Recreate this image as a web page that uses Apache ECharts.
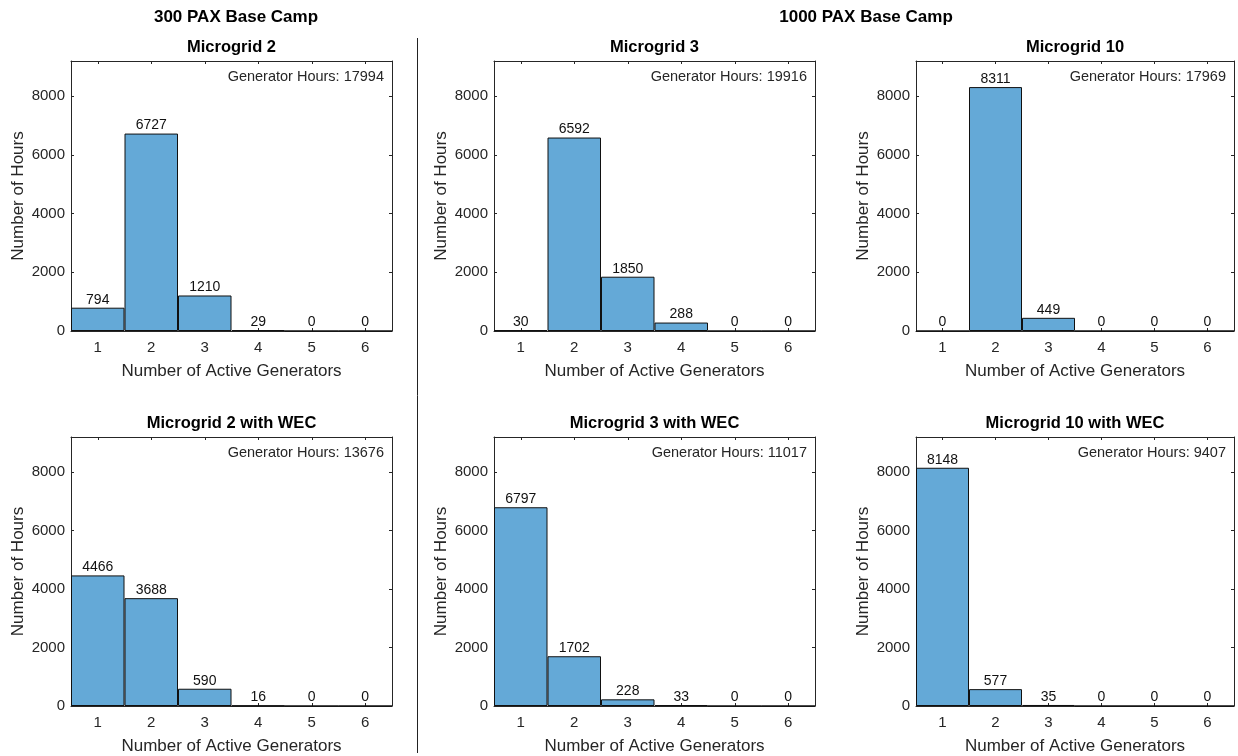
<!DOCTYPE html>
<html><head><meta charset="utf-8">
<script src="https://cdn.jsdelivr.net/npm/echarts@6/dist/echarts.min.js"></script>
<style>html,body{margin:0;padding:0;background:#fff}#c{width:1238px;height:756px}</style>
</head><body><div id="c"></div>
<script>
const categories = ['1','2','3','4','5','6'];
const mg2   = [794, 6727, 1210, 29, 0, 0];
const mg3   = [30, 6592, 1850, 288, 0, 0];
const mg10  = [0, 8311, 449, 0, 0, 0];
const mg2w  = [4466, 3688, 590, 16, 0, 0];
const mg3w  = [6797, 1702, 228, 33, 0, 0];
const mg10w = [8148, 577, 35, 0, 0, 0];
const panelSeries = [mg2, mg3, mg10, mg2w, mg3w, mg10w];
const panelTitles = ['Microgrid 2','Microgrid 3','Microgrid 10','Microgrid 2 with WEC','Microgrid 3 with WEC','Microgrid 10 with WEC'];
const genHours = [17994, 19916, 17969, 13676, 11017, 9407];
const groupTitles = ['300 PAX Base Camp','1000 PAX Base Camp'];
const yTicks = [0, 2000, 4000, 6000, 8000];
const yMax = 9200;

const FONT = 'Liberation Sans, Arial, Helvetica, sans-serif';
const TXT = '#262626';
const colLeft = [71, 494, 916];
const colWidth = [321, 321, 318];
const rowTop = [61, 437];
const rowHeight = [270, 269];

const grids = [], xAxes = [], yAxes = [], series = [], graphics = [];
for (let i = 0; i < 6; i++) {
  const r = Math.floor(i / 3), c = i % 3;
  grids.push({left: colLeft[c], top: rowTop[r], width: colWidth[c], height: rowHeight[r], containLabel: false, show: false});
  const axLine = {show: true, onZero: false, lineStyle: {color: TXT, width: 1}};
  const tick = {show: true, inside: true, length: 3, lineStyle: {color: TXT}};
  xAxes.push({
    type: 'category', gridIndex: i, data: categories, position: 'bottom',
    boundaryGap: true, axisLine: axLine,
    axisTick: Object.assign({alignWithLabel: true}, tick),
    axisLabel: {color: TXT, fontFamily: FONT, fontSize: 15, margin: 9},
    name: 'Number of Active Generators', nameLocation: 'middle', nameGap: 32,
    nameTextStyle: {color: TXT, fontFamily: FONT, fontSize: 17}
  });
  xAxes.push({
    type: 'category', gridIndex: i, data: categories, position: 'top',
    boundaryGap: true, axisLine: axLine,
    axisTick: Object.assign({alignWithLabel: true}, tick),
    axisLabel: {show: false}
  });
  const fmt = v => (yTicks.indexOf(v) >= 0 ? String(v) : '');
  yAxes.push({
    type: 'value', gridIndex: i, min: 0, max: yMax, interval: 2000, position: 'left',
    axisLine: axLine, axisTick: tick, splitLine: {show: false},
    axisLabel: {color: TXT, fontFamily: FONT, fontSize: 15, margin: 6, formatter: fmt, showMaxLabel: false},
    name: 'Number of Hours', nameLocation: 'middle', nameGap: 44, nameRotate: 90,
    nameTextStyle: {color: TXT, fontFamily: FONT, fontSize: 17}
  });
  yAxes.push({
    type: 'value', gridIndex: i, min: 0, max: yMax, interval: 2000, position: 'right',
    axisLine: axLine, axisTick: tick, splitLine: {show: false}, axisLabel: {show: false}
  });
  series.push({
    type: 'bar', xAxisIndex: 2 * i, yAxisIndex: 2 * i, data: panelSeries[i],
    barWidth: '100%', barCategoryGap: '0%',
    itemStyle: {color: '#64A9D7', borderColor: '#111', borderWidth: 1},
    label: {show: true, position: 'top', distance: 1, color: '#111', fontFamily: FONT, fontSize: 14},
    emphasis: {disabled: true}, silent: true
  });
  graphics.push({
    type: 'text', x: colLeft[c] + colWidth[c] / 2, y: rowTop[r] - 14,
    style: {text: panelTitles[i], font: 'bold 16.5px ' + FONT, fill: '#000', textAlign: 'center', textVerticalAlign: 'middle'}
  });
  graphics.push({
    type: 'text', x: colLeft[c] + colWidth[c] - 8, y: rowTop[r] + 16,
    style: {text: 'Generator Hours: ' + genHours[i], font: '14.5px ' + FONT, fill: TXT, textAlign: 'right', textVerticalAlign: 'middle'}
  });
}
graphics.push({type: 'text', x: 236, y: 17, style: {text: groupTitles[0], font: 'bold 17px ' + FONT, fill: '#000', textAlign: 'center', textVerticalAlign: 'middle'}});
graphics.push({type: 'text', x: 866, y: 17, style: {text: groupTitles[1], font: 'bold 17px ' + FONT, fill: '#000', textAlign: 'center', textVerticalAlign: 'middle'}});
graphics.push({type: 'line', shape: {x1: 417.5, y1: 38, x2: 417.5, y2: 753}, style: {stroke: '#222', lineWidth: 1}});

const chart = echarts.init(document.getElementById('c'), null, {renderer: 'canvas'});
chart.setOption({
  animation: false, backgroundColor: '#fff',
  grid: grids, xAxis: xAxes, yAxis: yAxes, series: series, graphic: graphics
});
</script></body></html>
